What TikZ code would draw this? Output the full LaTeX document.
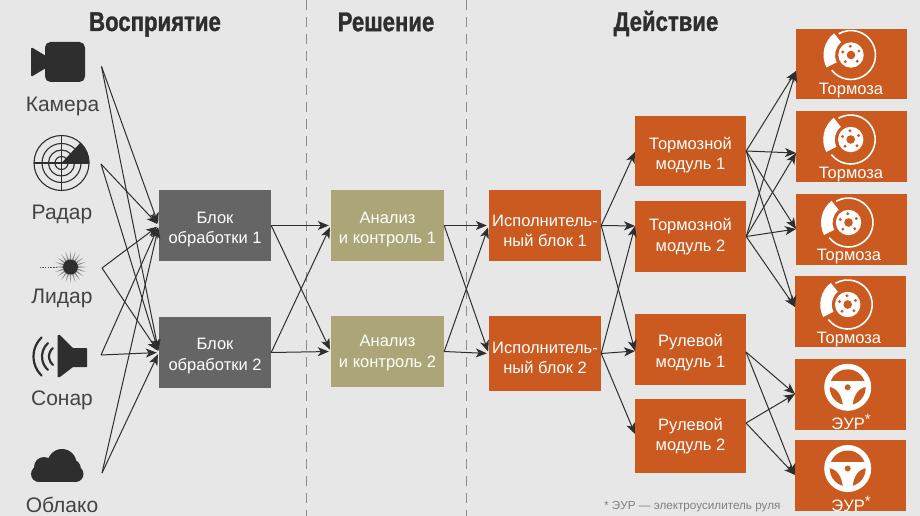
\documentclass[tikz,border=0pt]{standalone}
\usepackage{fontspec}
\setmainfont{Liberation Sans}
\newfontfamily\headfont[FakeStretch=0.82,FakeBold=1.2]{Liberation Sans Bold}
\usetikzlibrary{arrows.meta,calc}
\definecolor{bg}{HTML}{E7E7E7}
\definecolor{ink}{HTML}{2E2E2E}
\definecolor{grayb}{HTML}{656565}
\definecolor{olive}{HTML}{ABA578}
\definecolor{rust}{HTML}{CB5A20}
\tikzset{
  box/.style={minimum width=112pt,minimum height=71pt,inner sep=0pt,text=white,align=center,font=\fontsize{16.5}{20.5}\selectfont},
  dn/.style={execute at begin node={\rule{0pt}{\dimexpr #1pt+20.5pt\relax}}},
  gbox/.style={box,fill=grayb},
  obox/.style={box,fill=olive},
  rbox/.style={box,fill=rust},
  head/.style={font=\headfont\fontsize{27}{27}\selectfont,text=ink},
  lab/.style={font=\fontsize{21}{21}\selectfont,text=ink!90},
  small/.style={font=\fontsize{16.5}{16.5}\selectfont,text=white},
  arr/.style={draw=ink,line width=1pt,-{Stealth[length=11pt,width=9pt,inset=3pt]},shorten >=2pt},
  sep/.style={draw=black!45,line width=0.9pt,dash pattern=on 10pt off 7pt}
}
\newcommand{\brakeicon}[2]{%
\begin{scope}[shift={(#1,#2)},x=1pt,y=1pt]
  \draw[white,line width=1.6pt] (120:24.5) arc[start angle=120,end angle=-142,radius=24.5];
  \fill[white] (128:16) -- (128:27.5) arc[start angle=128,end angle=207,radius=27.5] -- (207:16) arc[start angle=207,end angle=128,radius=16] -- cycle;
  \fill[white] (0,0) circle (12.7);
  \fill[rust] (0,0) circle (4.3);
  \foreach \a in {95,27,-45,-130,160}{\fill[rust] (\a:8.8) circle (1.6);}
\end{scope}}
\newcommand{\wheelicon}[2]{%
\begin{scope}[shift={(#1,#2)},x=1pt,y=1pt]
  \fill[white] (0,0) circle (23.5);
  \fill[rust] (0,0) circle (18);
  \fill[white] (-18.5,6.3) -- (18.5,6.3) -- (18.5,0.5) .. controls (10,-1) and (6,-8) .. (4.7,-18.5) -- (-4.7,-18.5) .. controls (-6,-8) and (-10,-1) .. (-18.5,0.5) -- cycle;
  \fill[rust] (0,0) circle (3);
\end{scope}}
\begin{document}
\begin{tikzpicture}[x=1pt,y=-1pt]
\useasboundingbox (0,0) rectangle (920,516);
\fill[bg] (0,0) rectangle (920,516);
% separators
\coordinate (s1t) at (306,0); \coordinate (s1b) at (306,516);
\coordinate (s2t) at (466,0); \coordinate (s2b) at (466,516);
\draw[sep] (s1t) -- (s1b);
\draw[sep] (s2t) -- (s2b);
% headings
\node[head] (h1) at (155,24.5) {Восприятие};
\node[head] (h2) at (386,22) {Решение};
\node[head] (h3) at (666,23.5) {Действие};
% sensor labels
\node[lab] (lcam) at (62.5,106) {Камера};
\node[lab] (lrad) at (62,214.5) {Радар};
\node[lab] (llid) at (62,298.5) {Лидар};
\node[lab] (lson) at (62,400.5) {Сонар};
\node[lab] (lcld) at (62,505) {Облако};
% camera
\fill[ink,rounded corners=5.5pt] (45,42) rectangle (85,82);
\fill[ink,rounded corners=1.5pt] (31,47) -- (46,56) -- (46,68) -- (31,77) -- cycle;
% radar
\begin{scope}[shift={(61.5,163)},x=1pt,y=1pt]
  \fill[ink] (0,0) -- (28,0) arc[start angle=0,end angle=47,radius=28] -- cycle;
  \draw[ink,line width=1.1pt] (0,0) circle (27.5) (0,0) circle (19.5) (0,0) circle (13) (0,0) circle (6.5);
  \draw[ink,line width=1.1pt] (-27.5,0) -- (27.5,0) (0,-27.5) -- (0,27.5);
\end{scope}
% lidar
\begin{scope}[shift={(70.5,267)},x=1pt,y=1pt]
  \foreach \a in {0,18,...,342}{\fill[ink!55] (\a+7:7) -- (\a:16) -- (\a-7:7) -- cycle;}
  \fill[ink] (0,0) circle (7.5);
  \draw[ink!80,line width=0.8pt,dash pattern=on 1.5pt off 1.2pt] (-31,0) -- (-13,0);
\end{scope}
% sonar
\fill[ink,rounded corners=0.5pt] (57.5,335) -- (60,335) -- (73,348) -- (87,348) -- (87,367) -- (73,367) -- (60,377) -- (57.5,377) -- cycle;
\begin{scope}[shift={(60,356.5)},x=1pt,y=1pt]
  \draw[ink,line width=2.2pt,line cap=round] (130:11) arc[start angle=130,end angle=230,radius=11];
  \draw[ink,line width=2.2pt,line cap=round] (132:18) arc[start angle=132,end angle=228,radius=18];
  \draw[ink,line width=2.2pt,line cap=round] (134:26.5) arc[start angle=134,end angle=226,radius=26.5];
\end{scope}
% cloud
\fill[ink] (39,474) circle (8) (75.5,474) circle (8) (44,467) circle (10) (62,463.5) circle (14.5) (71,469) circle (10);
\fill[ink] (39,466) rectangle (75.5,482);
% blocks
\node[gbox,dn=19] (b1) at (215,225.5) {Блок\\обработки 1};
\node[gbox,dn=18] (b2) at (215,352.5) {Блок\\обработки 2};
\node[obox,dn=19,minimum width=113pt] (a1) at (387.5,225.5) {Анализ\\и контроль 1};
\node[obox,dn=14,minimum width=113pt] (a2) at (387.5,351.5) {Анализ\\и контроль 2};
\node[rbox,dn=22] (i1) at (545,225.5) {Исполнитель-\\ный блок 1};
\node[rbox,dn=20,minimum height=75pt] (i2) at (545,353.5) {Исполнитель-\\ный блок 2};
\node[rbox,dn=20,minimum width=111pt,minimum height=70pt] (t1) at (690.5,151) {Тормозной\\модуль 1};
\node[rbox,minimum width=111pt] (t2) at (690.5,236.5) {Тормозной\\модуль 2};
\node[rbox,dn=18,minimum width=111pt] (r1) at (690.5,349.5) {Рулевой\\модуль 1};
\node[rbox,minimum width=111pt,minimum height=74pt] (r2) at (690.5,436) {Рулевой\\модуль 2};
% actuators
\node[rbox,minimum width=111pt,minimum height=70pt] (k1) at (851.5,64) {};
\node[rbox,minimum width=111pt] (k2) at (851.5,146.5) {};
\node[rbox,minimum width=111pt] (k3) at (851.5,229.5) {};
\node[rbox,minimum width=111pt] (k4) at (850.5,311.5) {};
\node[rbox,minimum width=111pt] (e1) at (850.5,394.5) {};
\node[rbox,minimum width=111pt] (e2) at (850.5,475.5) {};
\brakeicon{851}{55}
\brakeicon{850.7}{139.5}
\brakeicon{848.5}{222.5}
\brakeicon{847.7}{304.5}
\wheelicon{847.7}{387.3}
\wheelicon{847.7}{468.5}
\node[small] (kl1) at (851,90.5) {Тормоза};
\node[small] (kl2) at (851,174.5) {Тормоза};
\node[small] (kl3) at (849,256.5) {Тормоза};
\node[small] (kl4) at (849,340) {Тормоза};
\node[small] (el1) at (851,422) {ЭУР\raisebox{5pt}{\fontsize{15}{15}\selectfont *}};
\node[small] (el2) at (851,504) {ЭУР\raisebox{5pt}{\fontsize{15}{15}\selectfont *}};
\node[font=\fontsize{11.7}{11.7}\selectfont,text=black!50,anchor=east] (fn) at (784,507) {* ЭУР — электроусилитель руля};
% ports
\coordinate (ocam) at (101.5,66.5);
\coordinate (orad) at (101,164);
\coordinate (olid) at (102,268);
\coordinate (oson) at (101,355);
\coordinate (ocld) at (102,473);
\coordinate (t2in) at (635,226);
\coordinate (r1in) at (635,351);
\coordinate (r2in) at (635,434);
\coordinate (t1in) at (635,152);
\coordinate (k1in) at (796,71);
\coordinate (k2in) at (796,153);
\coordinate (k3in) at (796,229);
\coordinate (k4in) at (795,307);
\coordinate (e1in) at (795,394);
\coordinate (e2in) at (795,475);
\coordinate (r2out) at (746,423);
\coordinate (r1out) at (746,352);
% sensors to blocks
\foreach \s in {ocam,orad,olid,oson,ocld}{
  \draw[arr] (\s) -- (b1.west);
  \draw[arr] (\s) -- (b2.west);
}
% blocks to analysis
\foreach \s/\e in {b1/a1,b1/a2,b2/a1,b2/a2,a1/i1,a1/i2,a2/i1,a2/i2}{
  \draw[arr] (\s.east) -- (\e.west);
}
% executive to modules
\foreach \s/\e in {i1/t1in,i1/t2in,i1/r1in,i2/t2in,i2/r1in,i2/r2in}{
  \draw[arr,shorten >=0pt] (\s.east) -- (\e);
}
% modules to actuators
\foreach \s in {t1,t2}{\foreach \e in {k1in,k2in,k3in,k4in}{
  \draw[arr,shorten >=0pt] (\s.east) -- (\e);
}}
\foreach \s in {r1out,r2out}{\foreach \e in {e1in,e2in}{
  \draw[arr,shorten >=0pt] (\s) -- (\e);
}}
\end{tikzpicture}
\end{document}
